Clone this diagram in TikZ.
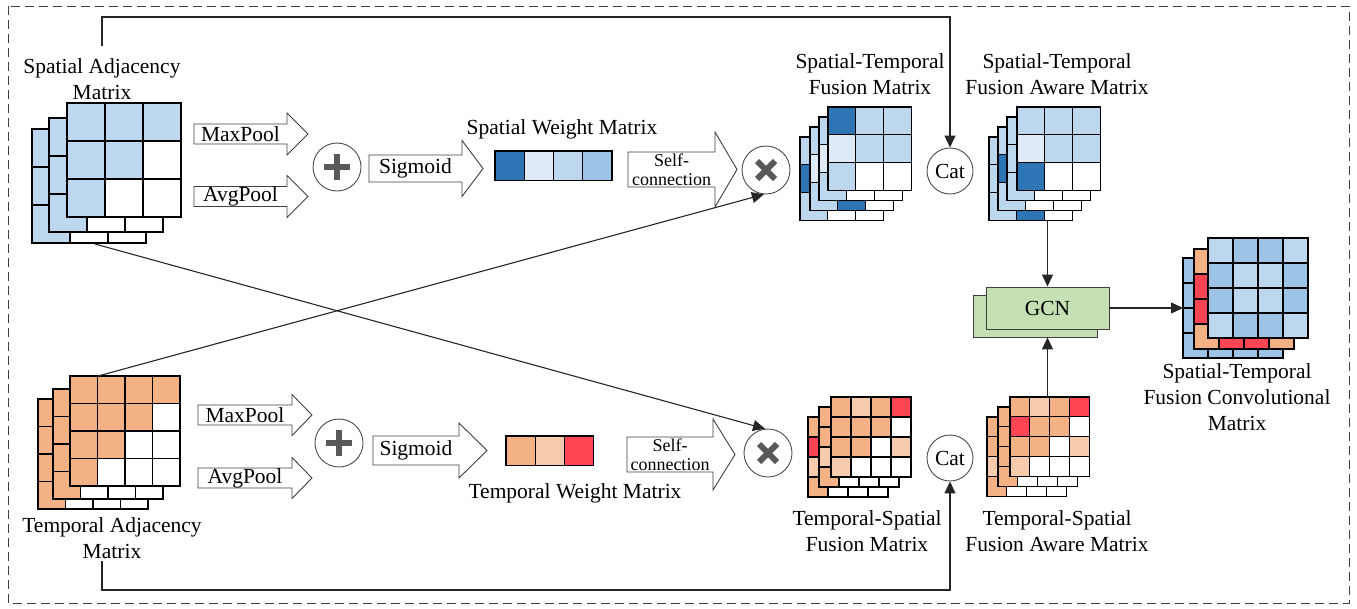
\documentclass[tikz,border=0pt]{standalone}
\usepackage{fontspec}
\setmainfont{Liberation Serif}
\usetikzlibrary{arrows.meta,calc}
\definecolor{bD}{HTML}{2E75B6}
\definecolor{bL}{HTML}{BDD7EE}
\definecolor{bV}{HTML}{DEEBF7}
\definecolor{bM}{HTML}{9DC3E6}
\definecolor{oO}{HTML}{F4B183}
\definecolor{oP}{HTML}{F8CBAD}
\definecolor{oR}{HTML}{FF4553}
\definecolor{gG}{HTML}{C5E0B4}
\definecolor{wW}{HTML}{FFFFFF}
\tikzset{
  cellsty/.style={draw=black, line width=1.1pt},
  blkarr/.style={draw=black!75, line width=0.9pt, fill=white},
  lbl/.style={font=\fontsize{21.5}{26}\selectfont, inner sep=0pt, align=center},
  smalllbl/.style={font=\fontsize{18}{19}\selectfont, inner sep=0pt, align=center},
  circ/.style={circle, draw=black!70, line width=0.9pt, minimum size=48pt, inner sep=0pt, fill=white, font=\fontsize{21.5}{26}\selectfont},
  conn/.style={draw=black!85, line width=1.1pt, -{Triangle[length=12pt,width=11pt]}},
  symsty/.style={line width=6pt, draw=black!65},
  gcnsty/.style={draw=black!75, line width=0.9pt, fill=gG, inner sep=0pt, font=\fontsize{21.5}{26}\selectfont}
}
% grid: x, y, cell, n, colours (row-major)
\newcommand{\mgrid}[5]{%
  \foreach \cellcol [count=\k from 0] in {#5} {%
    \pgfmathtruncatemacro{\mrow}{\k/#4}%
    \pgfmathtruncatemacro{\mcol}{mod(\k,#4)}%
    \draw[cellsty, fill=\cellcol] ({#1+\mcol*#3},{#2+\mrow*#3}) rectangle ++(#3,#3);
  }}
% block arrow: name, x1, x2, yc, body half, head half, head x, text
\newcommand{\blkarrow}[8]{%
  \draw[blkarr] (#2,#4-#5) -- (#7,#4-#5) -- (#7,#4-#6) -- (#3,#4) -- (#7,#4+#6) -- (#7,#4+#5) -- (#2,#4+#5) -- cycle;
  \node[lbl] (#1) at ({(#2+#7)/2},#4) {#8};
}
\begin{document}
\begin{tikzpicture}[x=1pt,y=-1pt]
\useasboundingbox (0,0) rectangle (1357,608);
% outer frame
\draw[black!75, line width=1pt, dash pattern=on 9pt off 5pt] (8,6) rectangle (1349,603);

% ---------- spatial adjacency matrix ----------
\mgrid{32}{129}{38}{3}{bL,bL,bL,bL,bL,wW,bL,wW,wW}
\mgrid{49}{118}{38}{3}{bL,bL,bL,bL,bL,wW,bL,wW,wW}
\mgrid{67}{103}{38}{3}{bL,bL,bL,bL,bL,wW,bL,wW,wW}
\node[lbl] (samlbl) at (102,79) {Spatial Adjacency\\Matrix};
\coordinate (samtop) at (102,46);
\coordinate (sambot) at (95,244);

% ---------- temporal adjacency matrix ----------
\mgrid{38}{399}{27.5}{4}{oO,oO,oO,oO,oO,oO,oO,wW,oO,oO,wW,wW,oO,wW,wW,wW}
\mgrid{53}{389}{27.5}{4}{oO,oO,oO,oO,oO,oO,oO,wW,oO,oO,wW,wW,oO,wW,wW,wW}
\mgrid{70}{376}{27.5}{4}{oO,oO,oO,oO,oO,oO,oO,wW,oO,oO,wW,wW,oO,wW,wW,wW}
\node[lbl] (tamlbl) at (112,538) {Temporal Adjacency\\Matrix};
\coordinate (tamtop) at (98,376);
\coordinate (tambot) at (102,561);

% ---------- top branch ----------
\blkarrow{maxT}{194}{308}{134}{10}{21}{287}{MaxPool}
\blkarrow{avgT}{194}{308}{196.5}{10}{21}{287}{AvgPool}
\node[circ] (plusT) at (337,167) {};
\draw[symsty] (plusT.center) ++(-13,0) -- ++(26,0);
\draw[symsty] (plusT.center) ++(0,-13) -- ++(0,26);
\blkarrow{sigT}{369}{483}{168.5}{13.5}{28}{462}{Sigmoid}
\mgrid{495}{151}{29.25}{4}{bD,bV,bL,bM}
\node[lbl] (swlbl) at (562,129) {Spatial Weight Matrix};
\draw[blkarr] (628,152) -- (715,152) -- (715,132) -- (737,169.5) -- (715,207) -- (715,187) -- (628,187) -- cycle;
\node[smalllbl] (selfT) at (671.5,169.5) {Self-\\connection};
\node[circ] (timesT) at (766,170) {};
\draw[symsty] (timesT.center) ++(-9,-9) -- ++(18,18);
\draw[symsty] (timesT.center) ++(-9,9) -- ++(18,-18);

% ---------- bottom branch ----------
\blkarrow{maxB}{198}{312}{415}{10}{20.5}{292}{MaxPool}
\blkarrow{avgB}{198}{312}{478}{10}{20.5}{292}{AvgPool}
\node[circ] (plusB) at (339,443) {};
\draw[symsty] (plusB.center) ++(-13,0) -- ++(26,0);
\draw[symsty] (plusB.center) ++(0,-13) -- ++(0,26);
\blkarrow{sigB}{373}{487}{450.5}{14.5}{27.5}{459}{Sigmoid}
\mgrid{506}{436}{29.3}{3}{oO,oP,oR}
\node[lbl] (twlbl) at (575,493) {Temporal Weight Matrix};
\draw[blkarr] (627,437) -- (713,437) -- (713,419) -- (735,454.5) -- (713,490) -- (713,472) -- (627,472) -- cycle;
\node[smalllbl] (selfB) at (670,454.5) {Self-\\connection};
\node[circ] (timesB) at (768,453) {};
\draw[symsty] (timesB.center) ++(-9,-9) -- ++(18,18);
\draw[symsty] (timesB.center) ++(-9,9) -- ++(18,-18);

% ---------- spatial-temporal fusion matrix ----------
\mgrid{800}{137}{27.7}{3}{bL,bL,bL,bD,bL,bL,bL,wW,wW}
\mgrid{810}{127}{27.7}{3}{bL,bL,bL,bV,bL,bL,bL,bD,wW}
\mgrid{819}{117}{27.7}{3}{bL,bL,bL,bV,bL,bL,bL,wW,wW}
\mgrid{828}{107}{27.7}{3}{bD,bL,bL,bV,bL,bL,bL,wW,wW}
\node[lbl] (stflbl) at (870,74.5) {Spatial-Temporal\\Fusion Matrix};

\node[circ, minimum size=46pt] (catT) at (950,171) {Cat};

% ---------- spatial-temporal fusion aware matrix ----------
\mgrid{989}{137}{27.7}{3}{bL,bL,bL,bL,bL,bL,bL,bD,wW}
\mgrid{998}{127}{27.7}{3}{bL,bL,bL,bD,bL,bL,bL,wW,wW}
\mgrid{1007}{117}{27.7}{3}{bL,bL,bL,bL,bL,bL,bL,wW,wW}
\mgrid{1017}{107}{27.7}{3}{bL,bL,bL,bV,bL,bL,bD,wW,wW}
\node[lbl] (stalbl) at (1057,74.5) {Spatial-Temporal\\Fusion Aware Matrix};
\coordinate (stawbot) at (1047.5,220);

% ---------- temporal-spatial fusion matrix ----------
\mgrid{808}{417}{20}{4}{oO,oO,oO,oO,oR,oO,oO,oO,oP,oO,oO,oO,oO,wW,wW,wW}
\mgrid{819}{407}{20}{4}{oO,oO,oO,oO,oO,oO,oO,oO,oP,oO,oO,oO,oO,wW,wW,wW}
\mgrid{831}{397}{20}{4}{oO,oP,oO,oR,oO,oO,oO,wW,oO,oO,wW,oP,oP,wW,wW,wW}
\node[lbl] (tsflbl) at (867,531) {Temporal-Spatial\\Fusion Matrix};

\node[circ, minimum size=46pt] (catB) at (950,458) {Cat};

% ---------- temporal-spatial fusion aware matrix ----------
\mgrid{987}{417}{19.8}{4}{oO,oO,oO,oO,oO,oO,oO,oO,oP,oO,oO,oO,oO,wW,wW,wW}
\mgrid{998}{407}{19.8}{4}{oO,oO,oO,oO,oO,oO,oO,oO,oO,oO,oO,oO,oO,wW,wW,wW}
\mgrid{1010}{397}{19.8}{4}{oO,oP,oO,oR,oR,oO,oO,wW,oO,oO,wW,oP,oP,wW,wW,wW}
\node[lbl] (tsalbl) at (1057,531) {Temporal-Spatial\\Fusion Aware Matrix};
\coordinate (tsawtop) at (1047.5,397);

% ---------- GCN ----------
\node[gcnsty, minimum width=124pt, minimum height=42pt] (gcnB) at (1035,316) {};
\node[gcnsty, minimum width=123pt, minimum height=42pt] (gcn) at (1047.5,308) {GCN};

% ---------- output matrix ----------
\mgrid{1183}{258}{25}{4}{bM,bM,bM,bM,bM,bM,bM,bM,bM,bM,bM,bM,bM,bM,bM,bM}
\mgrid{1194}{249}{25}{4}{oO,oO,oO,oO,oR,oO,oO,oO,oR,oO,oO,oO,oO,oR,oR,oO}
\mgrid{1208}{238}{25}{4}{bL,bM,bM,bL,bM,bL,bL,bM,bM,bL,bL,bM,bL,bM,bM,bL}
\node[lbl] (outlbl) at (1237,397) {Spatial-Temporal\\Fusion Convolutional\\Matrix};
\coordinate (outW) at (1183,308);

% ---------- connectors ----------
\coordinate (topcorner) at (950,17);
\coordinate (botcorner) at (950,590);
\draw[conn] (samtop) |- (topcorner) -- (catT.north);
\draw[conn] (tambot) |- (botcorner) -- (catB.south);
\draw[conn] (sambot) -- (timesB.97);
\draw[conn] (tamtop) -- (timesT.265);
\draw[conn] (stawbot) -- (stawbot |- gcn.north);
\draw[conn] (tsawtop) -- (tsawtop |- gcnB.south);
\draw[conn] (gcn.east) -- (outW);
\end{tikzpicture}
\end{document}
